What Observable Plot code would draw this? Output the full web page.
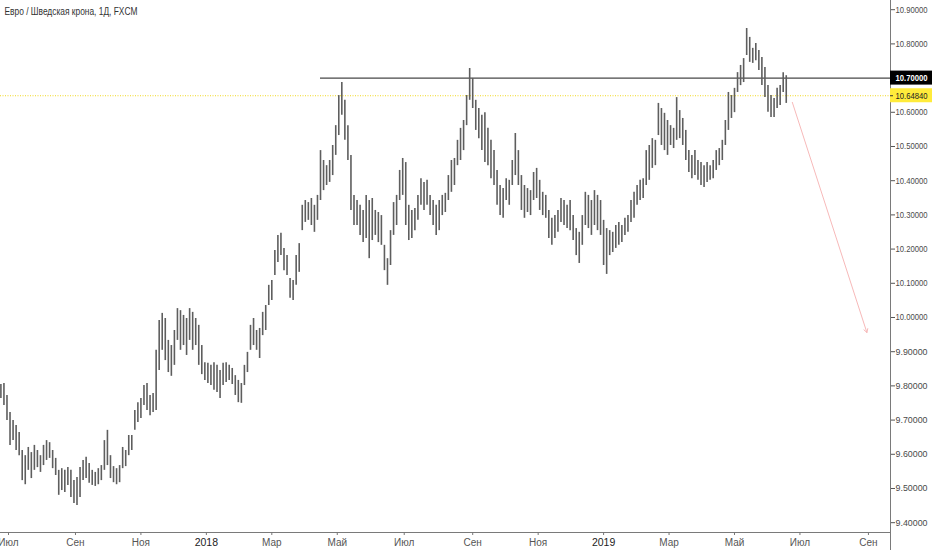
<!DOCTYPE html>
<html><head><meta charset="utf-8">
<script src="https://cdn.jsdelivr.net/npm/d3@7"></script>
<script src="https://cdn.jsdelivr.net/npm/@observablehq/plot@0.6"></script>
<style>
body{margin:0;background:#fff;}
#chart svg{display:block;}
</style></head>
<body><div id="chart"></div>
<script>
// EUR/SEK daily, FXCM — bars of 2 trading days each, starting 2017-06-26
const title = "Евро / Шведская крона, 1Д, FXCM";
const firstBarDate = "2017-06-26";
const barStep = 2; // trading days per bar
const highs = [
9.804,9.807,9.772,9.722,9.699,9.684,9.664,9.611,9.596,9.620,
9.605,9.626,9.611,9.596,9.626,9.640,9.634,9.611,9.588,9.553,
9.558,9.553,9.561,9.553,9.523,9.532,9.561,9.582,9.591,9.573,
9.553,9.547,9.558,9.567,9.640,9.670,9.596,9.564,9.558,9.567,
9.620,9.611,9.655,9.655,9.728,9.751,9.763,9.801,9.807,9.772,
9.778,9.904,9.991,10.012,9.997,9.933,9.918,9.962,10.026,10.020,
10.006,9.997,10.026,10.015,9.997,9.977,9.918,9.868,9.866,9.860,
9.868,9.860,9.845,9.866,9.868,9.860,9.851,9.830,9.816,9.807,
9.860,9.898,9.977,9.997,9.962,9.968,10.015,10.035,10.094,10.108,
10.196,10.240,10.246,10.202,10.181,10.114,10.108,10.181,10.216,10.328,
10.342,10.336,10.348,10.328,10.357,10.488,10.459,10.444,10.459,10.503,
10.561,10.649,10.687,10.635,10.561,10.474,10.357,10.342,10.328,10.313,
10.357,10.342,10.348,10.313,10.307,10.298,10.211,10.172,10.254,10.336,
10.357,10.430,10.465,10.453,10.328,10.313,10.319,10.357,10.406,10.395,
10.401,10.357,10.342,10.328,10.342,10.357,10.363,10.415,10.459,10.465,
10.518,10.553,10.576,10.649,10.728,10.699,10.635,10.611,10.591,10.599,
10.553,10.518,10.488,10.430,10.386,10.377,10.406,10.401,10.459,10.538,
10.488,10.415,10.386,10.377,10.371,10.424,10.436,10.401,10.366,10.357,
10.313,10.290,10.298,10.313,10.348,10.342,10.328,10.342,10.298,10.260,
10.249,10.298,10.366,10.357,10.342,10.371,10.357,10.342,10.284,10.260,
10.254,10.249,10.269,10.278,10.269,10.290,10.298,10.342,10.366,10.386,
10.401,10.406,10.488,10.503,10.523,10.518,10.626,10.611,10.597,10.576,
10.561,10.553,10.643,10.605,10.582,10.547,10.488,10.474,10.488,10.459,
10.453,10.444,10.453,10.444,10.459,10.488,10.494,10.518,10.576,10.658,
10.649,10.670,10.716,10.737,10.757,10.845,10.819,10.787,10.801,10.781,
10.760,10.731,10.678,10.649,10.640,10.670,10.678,10.716,10.707];
const lows = [
9.763,9.743,9.699,9.626,9.640,9.611,9.596,9.523,9.511,9.553,
9.529,9.553,9.561,9.547,9.567,9.582,9.588,9.558,9.538,9.480,
9.494,9.488,9.509,9.474,9.456,9.450,9.474,9.523,9.529,9.515,
9.509,9.506,9.511,9.523,9.553,9.567,9.529,9.517,9.511,9.517,
9.558,9.564,9.596,9.611,9.670,9.693,9.705,9.743,9.728,9.713,
9.722,9.728,9.845,9.904,9.874,9.839,9.828,9.860,9.933,9.904,
9.918,9.889,9.933,9.904,9.918,9.860,9.833,9.816,9.807,9.801,
9.787,9.781,9.763,9.801,9.810,9.816,9.804,9.772,9.751,9.749,
9.801,9.839,9.904,9.918,9.904,9.880,9.947,9.962,10.035,10.050,
10.123,10.161,10.181,10.137,10.123,10.056,10.050,10.094,10.132,10.254,
10.278,10.284,10.269,10.249,10.284,10.342,10.371,10.386,10.395,10.415,
10.474,10.532,10.591,10.518,10.459,10.313,10.269,10.269,10.240,10.219,
10.231,10.172,10.225,10.240,10.219,10.211,10.137,10.094,10.152,10.240,
10.269,10.342,10.357,10.269,10.225,10.231,10.254,10.284,10.328,10.313,
10.328,10.298,10.269,10.240,10.254,10.298,10.307,10.342,10.366,10.386,
10.444,10.459,10.488,10.561,10.635,10.611,10.547,10.523,10.488,10.453,
10.444,10.406,10.386,10.328,10.298,10.290,10.342,10.328,10.386,10.415,
10.386,10.313,10.290,10.307,10.298,10.342,10.348,10.313,10.298,10.290,
10.231,10.211,10.231,10.249,10.278,10.269,10.260,10.254,10.225,10.181,
10.158,10.211,10.269,10.260,10.240,10.269,10.254,10.240,10.152,10.126,
10.181,10.190,10.202,10.211,10.219,10.240,10.249,10.278,10.290,10.328,
10.342,10.348,10.386,10.401,10.436,10.444,10.532,10.503,10.488,10.474,
10.503,10.494,10.518,10.523,10.503,10.459,10.424,10.406,10.415,10.401,
10.386,10.380,10.395,10.401,10.406,10.430,10.444,10.459,10.503,10.547,
10.582,10.599,10.658,10.678,10.687,10.766,10.746,10.743,10.751,10.722,
10.678,10.643,10.600,10.585,10.585,10.611,10.620,10.658,10.626];

const lastClose = 10.6484;
const resistance = 10.70;
const resistanceStart = "2018-04-16";
const arrowFrom = {date: "2019-06-24", price: 10.629};
const arrowTo = {date: "2019-08-30", price: 9.956};

const yTicks = [9.4,9.5,9.6,9.7,9.8,9.9,10.0,10.1,10.2,10.3,10.4,10.5,10.6,10.7,10.8,10.9];
const tickDates = ["2017-07-03","2017-09-01","2017-11-01","2018-01-01","2018-03-01","2018-05-01","2018-07-02","2018-09-03","2018-11-01","2019-01-01","2019-03-01","2019-05-01","2019-07-01","2019-09-02"];
const tickLabels = ["Июл","Сен","Ноя","2018","Мар","Май","Июл","Сен","Ноя","2019","Мар","Май","Июл","Сен"];

// trading-day (weekday) index, 2017-07-03 (Monday) = 0
const base = Date.UTC(2017, 6, 3);
function tIndex(s) {
  const days = Math.round((Date.parse(s + "T00:00:00Z") - base) / 864e5);
  const w = Math.floor(days / 7), r = days - w * 7;
  return w * 5 + Math.min(r, 5);
}
const i0 = tIndex(firstBarDate);
const bars = highs.map((h, k) => ({i: i0 + k * barStep, high: h, low: lows[k]}));

const xDomain = [-5.26, 579.5];
const yDomain = [9.3713, 10.9269];
const xMax = xDomain[1];

const monthTicks = [], yearTicks = [];
const labelOf = new Map();
tickDates.forEach((d, j) => {
  const t = tIndex(d);
  labelOf.set(t, tickLabels[j]);
  (/^\d{4}$/.test(tickLabels[j]) ? yearTicks : monthTicks).push(t);
});

const FONT = '"Liberation Sans",Arial,sans-serif';

const chart = Plot.plot({
  width: 932, height: 550,
  marginTop: 0, marginRight: 42, marginBottom: 18, marginLeft: 0,
  x: {type: "linear", domain: xDomain, label: null},
  y: {domain: yDomain, label: null},
  style: {fontFamily: FONT, fontSize: "10px", background: "#fff", color: "#4a4a4a", overflow: "visible"},
  marks: [
    Plot.ruleY([lastClose], {stroke: "#f2d820", strokeDasharray: "1,1.5", strokeWidth: 1}),
    Plot.ruleY([resistance], {x1: tIndex(resistanceStart), x2: xMax, stroke: "#1a1a1a", strokeWidth: 1}),
    Plot.ruleX(bars, {x: "i", y1: "low", y2: "high", stroke: "#5e5e5e", strokeWidth: 1.6}),
    Plot.arrow([{a: arrowFrom, b: arrowTo}], {
      x1: d => tIndex(d.a.date), y1: d => d.a.price,
      x2: d => tIndex(d.b.date), y2: d => d.b.price,
      stroke: "#f7b9b9", strokeWidth: 1, headLength: 6, bend: 0
    }),
    Plot.ruleX([xMax], {stroke: "#7a7a7a", strokeWidth: 1, insetBottom: -18}),
    Plot.ruleY([yDomain[0]], {x1: xDomain[0], x2: xMax, stroke: "#7a7a7a", strokeWidth: 1}),
    Plot.axisY({anchor: "right", ticks: yTicks, tickFormat: d => d.toFixed(5), tickSize: 4, tickPadding: 1, fontSize: 8.8, fill: "#4a4a4a", stroke: "#555"}),
    Plot.axisX({anchor: "bottom", ticks: monthTicks, tickFormat: d => labelOf.get(d), tickSize: 3, tickPadding: 3, fontSize: 10, fill: "#555", stroke: "#777"}),
    Plot.axisX({anchor: "bottom", ticks: yearTicks, tickFormat: d => labelOf.get(d), tickSize: 3, tickPadding: 3, fontSize: 10.5, fill: "#222", stroke: "#777"}),
    // price labels on the scale
    Plot.rect([resistance], {x1: xMax, x2: xMax, y1: d => d, y2: d => d, insetRight: -42, insetTop: -7, insetBottom: -7, fill: "#000"}),
    Plot.text([resistance], {x: xMax, y: d => d, text: d => d.toFixed(5), textAnchor: "start", dx: 5, fill: "#fff", fontWeight: "bold", fontSize: 8.6}),
    Plot.rect([lastClose], {x1: xMax, x2: xMax, y1: d => d, y2: d => d, insetRight: -42, insetTop: -7, insetBottom: -7, fill: "#ffeb3b"}),
    Plot.text([lastClose], {x: xMax, y: d => d, text: d => d.toFixed(5), textAnchor: "start", dx: 5, fill: "#222", fontSize: 8.8}),
    Plot.ruleY([lastClose], {x1: xMax, x2: xMax, insetRight: -3, stroke: "#333"}),
    Plot.text([title], {frameAnchor: "top-left", dx: 4, dy: 11, lineAnchor: "middle", textAnchor: "start", fill: "#333", fontSize: 10.5})
  ]
});
// condense the narrow scale labels and the title to the reference widths
d3.select(chart).selectAll("text").each(function () {
  const s = this.textContent;
  if (/^\d+\.\d{5}$/.test(s)) {
    this.setAttribute("textLength", "32");
    this.setAttribute("lengthAdjust", "spacingAndGlyphs");
  } else if (s === title) {
    this.setAttribute("textLength", "133");
    this.setAttribute("lengthAdjust", "spacingAndGlyphs");
  }
});
document.getElementById("chart").appendChild(chart);
</script>
</body></html>
